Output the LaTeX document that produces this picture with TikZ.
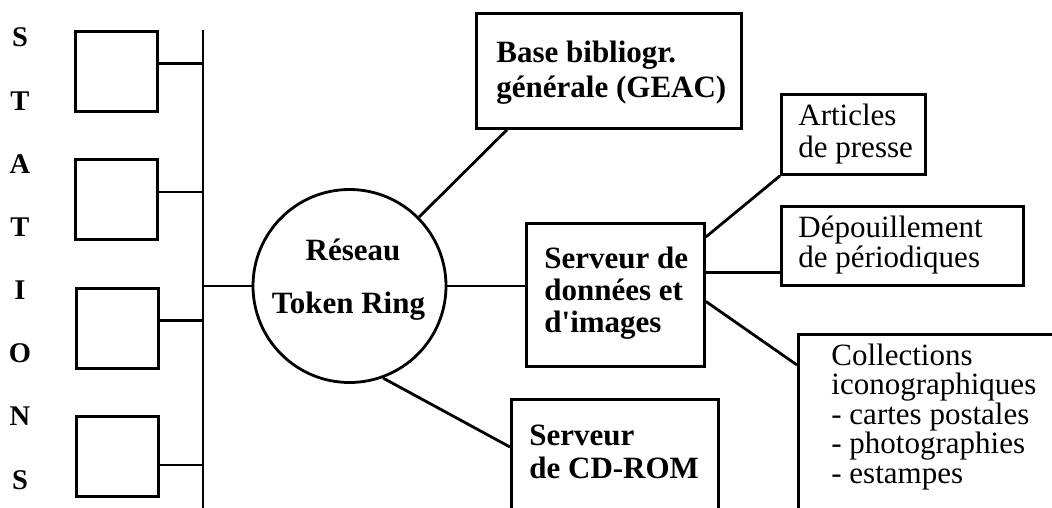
\documentclass[tikz,border=0pt]{standalone}
\usepackage{fontspec}
\setmainfont{Liberation Serif}
\begin{document}
\begin{tikzpicture}[x=1pt,y=-1pt,line width=2.8pt,
  box/.style={draw,rectangle,inner sep=0pt,anchor=north west},
  station/.style={box,minimum width=82pt,minimum height=80pt},
  lbl/.style={anchor=base west,align=left,inner sep=0pt},
  boldtxt/.style={font=\fontsize{31}{#1}\selectfont\bfseries},
  regtxt/.style={font=\fontsize{31}{#1}\selectfont}]
\useasboundingbox (0,0) rectangle (1052,507);
\clip (0,0) rectangle (1052,507);

% STATIONS letters (anchor = baseline of last line)
\node[anchor=base,align=center,inner sep=0pt,font=\fontsize{28.5}{63.15}\selectfont\bfseries] (letters) at (20,489)
  {S\\T\\A\\T\\I\\O\\N\\S};

% station boxes
\node[station] (s1) at (74,30) {};
\node[station] (s2) at (74,158) {};
\node[station] (s3) at (75,287) {};
\node[station] (s4) at (75,415) {};

% bus
\coordinate (bustop) at (203,30);
\coordinate (busbot) at (203,510);
\draw (bustop) -- (busbot);
\draw ([yshift=8pt]s1.east) -- ([yshift=8pt]s1.east -| bustop);
\draw ([yshift=7.5pt]s2.east) -- ([yshift=7.5pt]s2.east -| bustop);
\draw ([yshift=8pt]s3.east) -- ([yshift=8pt]s3.east -| bustop);
\draw ([yshift=-8.5pt]s4.east) -- ([yshift=-8.5pt]s4.east -| bustop);

% ring
\node[draw,circle,minimum size=193pt,inner sep=0pt] (ring) at (349.5,286) {};
\node[lbl,anchor=base,boldtxt=32] (ringa) at (353,260) {Réseau};
\node[lbl,anchor=base,boldtxt=32] (ringb) at (348.5,313) {Token Ring};
\draw (ring.west -| bustop) -- (ring.west);

% Base bibliographique
\node[box,minimum width=265pt,minimum height=115pt] (base) at (475,12) {};
\node[lbl,boldtxt=35] (basetxt) at (495,97) {Base bibliogr.\\générale (GEAC)};
\draw (ring) -- ([xshift=32pt]base.south west);

% Serveur de donnees
\node[box,minimum width=178pt,minimum height=143pt] (srv) at (525,222) {};
\node[lbl,boldtxt=32] (srvtxt) at (543,332) {Serveur de\\données et\\d\textquotesingle images};
\draw (ring.east) -- (ring.east -| srv.west);

% Serveur de CD-ROM
\node[box,minimum width=207pt,minimum height=200pt] (cd) at (510,398) {};
\node[lbl,boldtxt=33] (cdtxt) at (528,478) {Serveur\\de CD-ROM};
\draw (ring.-70) -- ([yshift=-49pt]cd.north west);

% Articles de presse
\node[box,minimum width=144pt,minimum height=80pt] (art) at (780,93) {};
\node[lbl,regtxt=32] (arttxt) at (797,157) {Articles\\de presse};
\draw ([yshift=-15pt]srv.north east) -- (art.south west);

% Depouillement
\node[box,minimum width=242pt,minimum height=79pt] (dep) at (780,205) {};
\node[lbl,regtxt=30] (deptxt) at (797,267) {Dépouillement\\de périodiques};
\draw ([yshift=14pt]dep.south west) -- ([yshift=14pt]dep.south west -| srv.east);

% Collections
\node[box,minimum width=400pt,minimum height=250pt] (col) at (797,333) {};
\node[lbl,regtxt=29.5] (coltxt) at (830,483) {Collections\\iconographiques\\- cartes postales\\- photographies\\- estampes};
\draw ([yshift=-6.5pt]srv.east) -- ([yshift=-32pt]col.north west);
\end{tikzpicture}
\end{document}
